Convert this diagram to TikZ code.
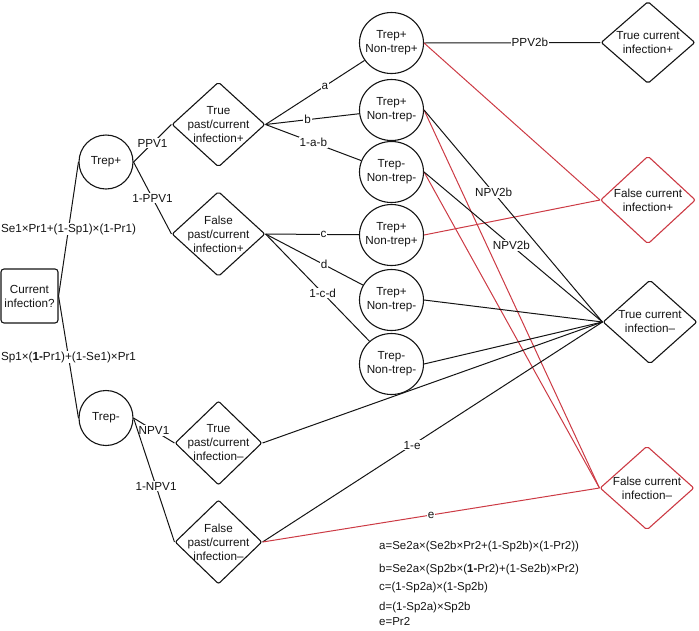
\documentclass[tikz,border=0pt]{standalone}
\usepackage{fontspec}
\setmainfont{Liberation Sans}
\usepackage{tikz}
\usetikzlibrary{shapes.geometric}
\definecolor{falseRed}{HTML}{CC3A44}
\definecolor{inkBlack}{HTML}{141414}

\begin{document}
\begin{tikzpicture}[x=1pt, y=-1pt,
    every node/.style={font=\fontsize{11.7}{14}\selectfont, align=center, text=inkBlack},
    testnode/.style={ellipse, draw=inkBlack, line width=1.1pt, inner sep=-8pt,
      minimum width=64pt, minimum height=61pt},
    outcome/.style={diamond, draw=inkBlack, line width=1.1pt, inner sep=-14pt,
      rounded corners=2pt, minimum width=93pt, minimum height=85pt},
    branch/.style={draw=inkBlack, line width=1pt},
    wrongbranch/.style={draw=falseRed, line width=1pt},
    prob/.style={fill=white, inner sep=1pt},
    defn/.style={anchor=west, align=left, inner sep=0pt, font=\fontsize{11.5}{14}\selectfont},
  ]
  \useasboundingbox (0,0) rectangle (699,630);

  % first test
  \node[draw=inkBlack, line width=1.1pt, rounded corners=3pt, minimum width=57pt,
        minimum height=54pt, inner sep=1pt] (cur) at (29.5,296) {Current\\infection?};
  \node[testnode, minimum width=54pt, minimum height=54pt] (trepP) at (106,162) {Trep+};
  \node[testnode, minimum width=54pt, minimum height=55pt] (trepM) at (106,418) {Trep-};

  % past/current status
  \node[outcome] (tpPos) at (218.5,124.5) {True\\past/current\\infection+};
  \node[outcome] (fpPos) at (218.5,234) {False\\past/current\\infection+};
  \node[outcome, minimum width=87pt, minimum height=84pt] (tpNeg) at (218.5,443) {True\\past/current\\infection--};
  \node[outcome, minimum width=87pt, minimum height=84pt] (fpNeg) at (218.5,542) {False\\past/current\\infection--};

  % second test results
  \node[testnode] (t1) at (391.5,43) {Trep+\\Non-trep+};
  \node[testnode] (t2) at (391.5,110) {Trep+\\Non-trep-};
  \node[testnode] (t3) at (391.5,172) {Trep-\\Non-trep-};
  \node[testnode] (t4) at (391.5,235) {Trep+\\Non-trep+};
  \node[testnode] (t5) at (391.5,300) {Trep+\\Non-trep-};
  \node[testnode] (t6) at (391.5,364) {Trep-\\Non-trep-};

  % current status
  \node[outcome, minimum width=94pt, minimum height=82pt] (tcPos) at (648,42.5) {True current\\infection+};
  \node[outcome, draw=falseRed, minimum width=95pt, minimum height=88pt] (fcPos) at (648,200) {False current\\infection+};
  \node[outcome, minimum width=94pt, minimum height=84pt] (tcNeg) at (650,322) {True current\\infection--};
  \node[outcome, draw=falseRed, minimum width=94pt, minimum height=84pt] (fcNeg) at (647,488) {False current\\infection--};

  % first split
  \draw[branch] (cur.east) -- node[prob] {Se1×Pr1+(1-Sp1)×(1-Pr1)} (trepP.west);
  \draw[branch] (cur.east) -- node[prob] {Sp1×(\textbf{1-}Pr1)+(1-Se1)×Pr1} (trepM.west);
  \draw[branch] (trepP.east) -- node[prob] {PPV1} (tpPos.west);
  \draw[branch] (trepP.east) -- node[prob] {1-PPV1} (fpPos.west);
  \draw[branch] (trepM.east) -- node[prob] {NPV1} (tpNeg.west);
  \draw[branch] (trepM.east) -- node[prob, pos=0.55] {1-NPV1} (fpNeg.west);

  % second split
  \draw[branch] (tpPos.east) -- node[prob, pos=0.6] {a} (t1);
  \draw[branch] (tpPos.east) -- node[prob, pos=0.45] {b} (t2);
  \draw[branch] (tpPos.east) -- node[prob] {1-a-b} (t3);
  \draw[branch] (fpPos.east) -- node[prob, pos=0.62] {c} (t4);
  \draw[branch] (fpPos.east) -- node[prob, pos=0.6] {d} (t5);
  \draw[branch] (fpPos.east) -- node[prob, pos=0.55] {1-c-d} (t6);

  % to current status
  \draw[branch] (t1.east) -- node[prob, pos=0.6] {PPV2b} (tcPos.west);
  \draw[wrongbranch] (t1.east) -- (fcPos.west);
  \draw[wrongbranch] (t2.east) -- (fcNeg.west);
  \draw[wrongbranch] (t3.east) -- (fcNeg.west);
  \draw[wrongbranch] (t4.east) -- (fcPos.west);
  \draw[branch] (t2.east) -- node[prob, pos=0.39] {NPV2b} (tcNeg.west);
  \draw[branch] (t3.east) -- node[prob, pos=0.49] {NPV2b} (tcNeg.west);
  \draw[branch] (t5.east) -- (tcNeg.west);
  \draw[branch] (t6.east) -- (tcNeg.west);
  \draw[branch] (tpNeg.east) -- (tcNeg.west);
  \draw[branch] (fpNeg.east) -- node[prob, pos=0.44] {1-e} (tcNeg.west);
  \draw[wrongbranch] (fpNeg.east) -- node[prob, pos=0.5] {e} (fcNeg.west);

  % definitions
  \foreach \k/\y/\t in {a/547/{a=Se2a×(Se2b×Pr2+(1-Sp2b)×(1-Pr2))},
      b/570/{b=Se2a×(Sp2b×(\textbf{1-}Pr2)+(1-Se2b)×Pr2)},
      c/588/{c=(1-Sp2a)×(1-Sp2b)},
      d/608/{d=(1-Sp2a)×Sp2b},
      e/622/{e=Pr2}}{
    \node[defn] (def\k) at (379,\y) {\t};
  }
\end{tikzpicture}
\end{document}
